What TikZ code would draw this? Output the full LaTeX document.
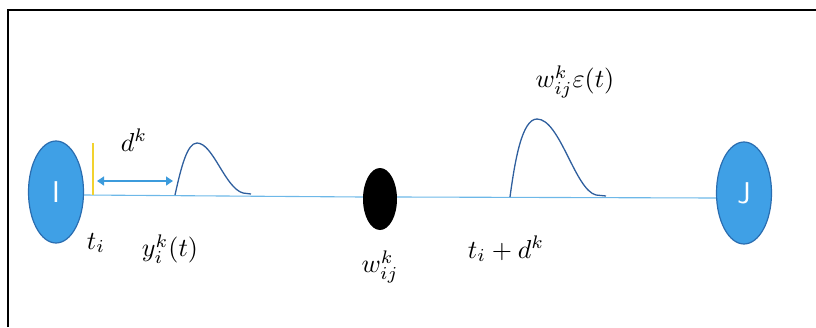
\documentclass[tikz,border=0pt]{standalone}
\usepackage{graphicx}
\usetikzlibrary{arrows.meta,shapes.geometric}
\definecolor{nodeblue}{HTML}{3FA0E6}
\definecolor{nodeedge}{HTML}{2A6DB0}
\definecolor{wireblue}{HTML}{6DB8E8}
\definecolor{pulseblue}{HTML}{2F5F9E}
\definecolor{arrowblue}{HTML}{3C9BDC}
\definecolor{markyellow}{HTML}{F2D22E}
\newcommand{\biglbl}[1]{\scalebox{2.6}{$#1$}}
\newcommand{\nodeletter}[1]{\scalebox{1.45}{\sffamily\huge #1}}
\begin{document}
\begin{tikzpicture}[x=1pt,y=-1pt,
  neuron/.style={ellipse,draw=nodeedge,line width=1.2pt,fill=nodeblue,
    minimum width=55pt,minimum height=102pt,inner sep=0pt,text=white},
  weight/.style={ellipse,fill=black,minimum width=34pt,minimum height=62pt,inner sep=0pt},
  wire/.style={draw=wireblue,line width=1.1pt},
  pulse/.style={draw=pulseblue,line width=1.3pt},
  lbl/.style={inner sep=0pt}]
\useasboundingbox (0,0) rectangle (816,327);
\draw[line width=2.6pt] (8,327) -- (8,10) -- (816,10);
% nodes
\node[neuron] (I) at (56,192) {\nodeletter{I}};
\node[neuron] (J) at (744,193) {\nodeletter{J}};
\node[weight] (W) at (380,199) {};
% wire
\draw[wire] (I.east |- 0,195) coordinate (Ie) -- (W.west |- 0,197) coordinate (Ww);
\draw[wire] (W.east |- 0,197) -- (J.west |- 0,198);
% yellow time mark
\coordinate (ytop) at (93,143);
\coordinate (ybot) at (93,195);
\draw[markyellow,line width=1.4pt] (ytop) -- (ybot);
% delay arrow
\coordinate (da) at (97,181);
\coordinate (db) at (173,181);
\draw[arrowblue,line width=1.3pt,{Triangle[length=7pt,width=9pt]}-{Triangle[length=7pt,width=9pt]}] (da) -- (db);
% left pulse
\coordinate (p1s) at (175,195);
\coordinate (p1t) at (197,143);
\coordinate (p1e) at (251,194);
\draw[pulse] (p1s) .. controls (181,168) and (187,143) .. (p1t)
  .. controls (213,143) and (225,188) .. (243,193) .. controls (247,194) .. (p1e);
% right pulse
\coordinate (p2s) at (510,197);
\coordinate (p2t) at (537,119);
\coordinate (p2e) at (606,196);
\draw[pulse] (p2s) .. controls (515,160) and (522,119) .. (p2t)
  .. controls (560,119) and (575,190) .. (596,195) .. controls (601,196) .. (p2e);
% labels
\node[lbl] (dk) at (134,140) {\biglbl{d^k}};
\node[lbl] (ti) at (96,243) {\biglbl{t_i}};
\node[lbl] (yk) at (170,249) {\biglbl{y_i^k(t)}};
\node[lbl] (wk) at (380,267) {\biglbl{w_{ij}^k}};
\node[lbl] (tdk) at (506,249) {\biglbl{t_i+d^k}};
\node[lbl] (we) at (575,82) {\biglbl{w_{ij}^k\varepsilon(t)}};
\end{tikzpicture}
\end{document}
